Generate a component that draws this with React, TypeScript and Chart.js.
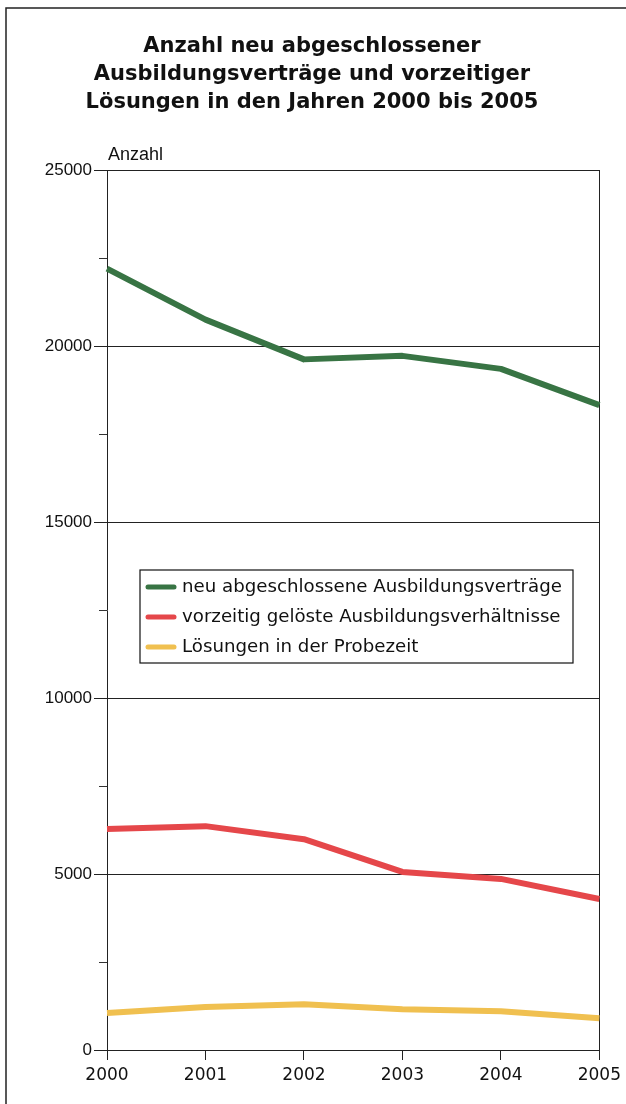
import React, { useEffect, useRef } from "react";
import { Chart, registerables } from "chart.js";

Chart.register(...registerables);

const years = ["2000", "2001", "2002", "2003", "2004", "2005"];
const neuVertraege = [22200, 20750, 19620, 19720, 19350, 18320];
const vorzeitigGeloest = [6280, 6360, 5990, 5060, 4860, 4290];
const probezeit = [1050, 1220, 1300, 1160, 1100, 900];
const yTicks = [0, 5000, 10000, 15000, 20000, 25000];
const titleLines = [
  "Anzahl neu abgeschlossener",
  "Ausbildungsverträge und vorzeitiger",
  "Lösungen in den Jahren 2000 bis 2005",
];
const seriesLabels = [
  "neu abgeschlossene Ausbildungsverträge",
  "vorzeitig gelöste Ausbildungsverhältnisse",
  "Lösungen in der Probezeit",
];
const seriesColors = ["#387444", "#e5474a", "#f0c050"];

const decorPlugin = {
  id: "decor",
  afterDraw(chart: any) {
    const ctx = chart.ctx;
    const area = chart.chartArea;
    const y = chart.scales.y;
    ctx.save();
    // outer frame (left and top)
    ctx.strokeStyle = "#222";
    ctx.lineWidth = 1.5;
    ctx.beginPath();
    ctx.moveTo(6, 1104);
    ctx.lineTo(6, 8);
    ctx.lineTo(626, 8);
    ctx.stroke();
    // title
    ctx.fillStyle = "#111";
    ctx.font = "bold 21px 'DejaVu Sans', sans-serif";
    ctx.textAlign = "center";
    ctx.textBaseline = "middle";
    titleLines.forEach((t, i) => ctx.fillText(t, 312, 47 + i * 28));
    // minor ticks on y axis
    ctx.strokeStyle = "#333";
    ctx.lineWidth = 1;
    for (let v = 2500; v < 25000; v += 5000) {
      const py = Math.round(y.getPixelForValue(v)) + 0.5;
      ctx.beginPath();
      ctx.moveTo(area.left - 8, py);
      ctx.lineTo(area.left, py);
      ctx.stroke();
    }
    // "Anzahl" label
    ctx.fillStyle = "#111";
    ctx.font = "18px 'Liberation Sans', Arial, sans-serif";
    ctx.textAlign = "left";
    ctx.textBaseline = "middle";
    ctx.fillText("Anzahl", 108, 155);
    // legend box
    const lx = 140, ly = 570, lw = 433, lh = 93;
    ctx.fillStyle = "#fff";
    ctx.fillRect(lx, ly, lw, lh);
    ctx.strokeStyle = "#111";
    ctx.lineWidth = 1.2;
    ctx.strokeRect(lx, ly, lw, lh);
    ctx.font = "18.2px 'DejaVu Sans', sans-serif";
    seriesLabels.forEach((lab, i) => {
      const cy = 587 + i * 30;
      ctx.strokeStyle = seriesColors[i];
      ctx.lineWidth = 5;
      ctx.lineCap = "round";
      ctx.beginPath();
      ctx.moveTo(148, cy);
      ctx.lineTo(174, cy);
      ctx.stroke();
      ctx.fillStyle = "#111";
      ctx.fillText(lab, 182, cy);
    });
    ctx.restore();
  },
};

export default function App() {
  const ref = useRef<HTMLCanvasElement>(null);
  useEffect(() => {
    if (!ref.current) return;
    const chart = new Chart(ref.current, {
      type: "line",
      data: {
        labels: years,
        datasets: [
          { label: seriesLabels[0], data: neuVertraege, borderColor: seriesColors[0] },
          { label: seriesLabels[1], data: vorzeitigGeloest, borderColor: seriesColors[1] },
          { label: seriesLabels[2], data: probezeit, borderColor: seriesColors[2] },
        ].map((d) => ({
          ...d,
          borderWidth: 6,
          pointRadius: 0,
          tension: 0,
          fill: false,
          borderCapStyle: "butt" as const,
          borderJoinStyle: "round" as const,
        })),
      },
      options: {
        responsive: false,
        animation: false,
        layout: { padding: { left: 0, right: 26, top: 170, bottom: 0 } },
        plugins: {
          legend: { display: false },
          tooltip: { enabled: false },
          title: { display: false },
        },
        scales: {
          x: {
            offset: false,
            afterFit: (s: any) => {
              s.height = 54;
            },
            grid: {
              drawOnChartArea: true,
              color: (c: any) => (c.index === years.length - 1 ? "#222" : "rgba(0,0,0,0)"),
              tickColor: "#222",
              tickLength: 10,
              lineWidth: 1,
            },
            border: { display: true, color: "#222", width: 1 },
            ticks: {
              color: "#111",
              font: { family: "'DejaVu Sans', sans-serif", size: 17 },
              padding: 5,
              maxRotation: 0,
              autoSkip: false,
            },
          },
          y: {
            min: 0,
            max: 25000,
            afterFit: (s: any) => {
              s.width = 107;
            },
            afterBuildTicks: (s: any) => {
              s.ticks = yTicks.map((v) => ({ value: v }));
            },
            grid: {
              color: "#222",
              tickColor: "#222",
              tickLength: 13,
              lineWidth: 1,
            },
            border: { display: true, color: "#222", width: 1 },
            ticks: {
              color: "#111",
              font: { family: "'Liberation Sans', Arial, sans-serif", size: 17 },
              padding: 2,
              callback: (v: any) => String(v),
            },
          },
        },
      },
      plugins: [decorPlugin],
    });
    return () => chart.destroy();
  }, []);
  return (
    <div style={{ position: "fixed", left: 0, top: 0, width: 626, height: 1104, background: "#fff" }}>
      <canvas ref={ref} width={626} height={1104} style={{ display: "block" }} />
    </div>
  );
}
